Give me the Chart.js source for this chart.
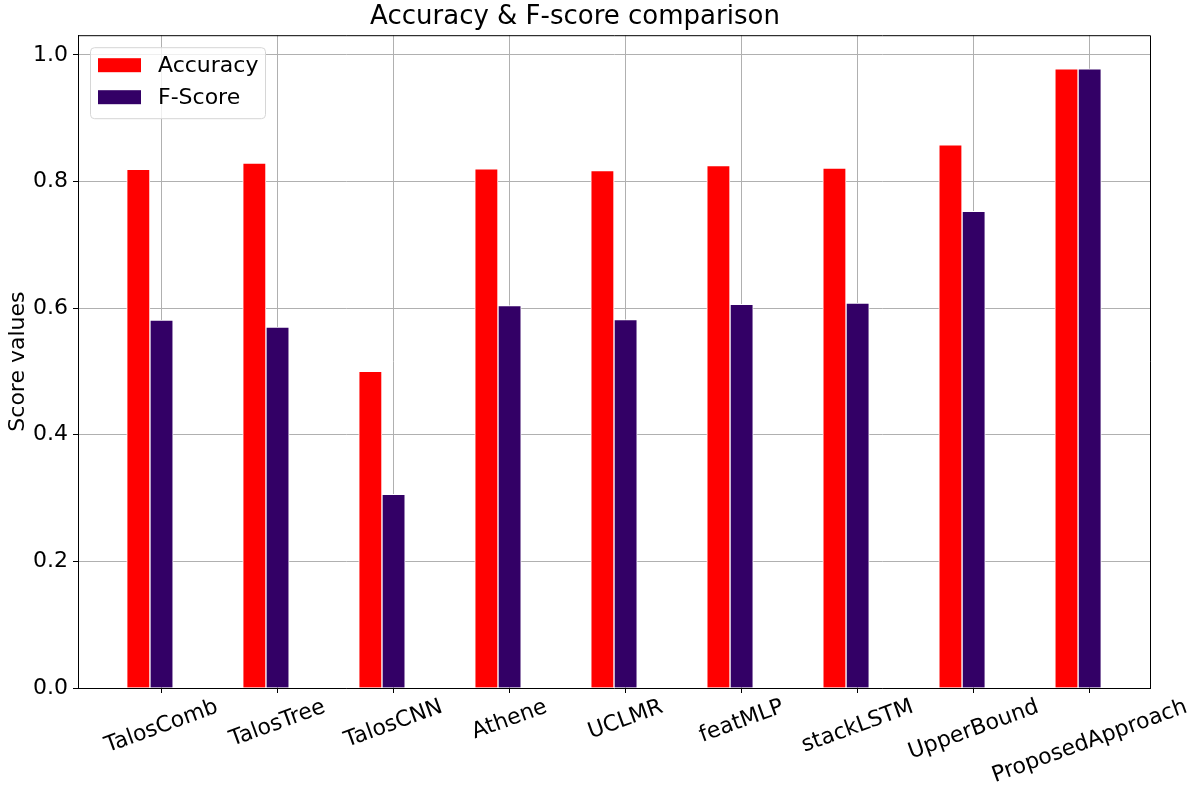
<!DOCTYPE html>
<html>
<head>
<meta charset="utf-8">
<script src="https://cdn.jsdelivr.net/npm/chart.js@4/dist/chart.umd.min.js"></script>
<style>
  body { margin: 0; background: #fff; }
</style>
</head>
<body>
<canvas id="barChart" width="1194" height="791"></canvas>
<script>
const categories = ['TalosComb', 'TalosTree', 'TalosCNN', 'Athene', 'UCLMR',
                    'featMLP', 'stackLSTM', 'UpperBound', 'ProposedApproach'];
const accuracy = [0.819, 0.829, 0.500, 0.820, 0.817, 0.825, 0.821, 0.858, 0.978];
const fscore   = [0.581, 0.570, 0.306, 0.604, 0.582, 0.606, 0.608, 0.753, 0.978];
const yTicks = [0.0, 0.2, 0.4, 0.6, 0.8, 1.0];

const FONT = 'DejaVu Sans';
const barW = 0.2;   // bar width in category units, red sits one bar left of the tick

// top/right frame, rotated x labels and the boxed legend
const extras = {
    id: 'extras',
    afterDraw(chart) {
        const ctx = chart.ctx;
        const a = chart.chartArea;
        const xs = chart.scales.x;
        ctx.save();
        ctx.strokeStyle = '#000';
        ctx.lineWidth = 1;
        ctx.beginPath();
        ctx.moveTo(a.left, a.top + 0.5);
        ctx.lineTo(a.right + 0.5, a.top + 0.5);
        ctx.lineTo(a.right + 0.5, a.bottom);
        ctx.stroke();

        // category labels, rotated 20deg and centred on the tick
        ctx.font = '22px "' + FONT + '"';
        ctx.fillStyle = '#000';
        ctx.textAlign = 'center';
        ctx.textBaseline = 'middle';
        const ang = 20 * Math.PI / 180;
        categories.forEach((lab, i) => {
            const w = ctx.measureText(lab).width;
            const x = xs.getPixelForValue(i);
            const y = a.bottom + 10 + (w * Math.sin(ang) + 18 * Math.cos(ang)) / 2;
            ctx.save();
            ctx.translate(x, y);
            ctx.rotate(-ang);
            ctx.fillText(lab, 0, 0);
            ctx.restore();
        });

        // legend
        const lx = a.left + 12, ly = a.top + 12, lw = 175, lh = 71;
        ctx.beginPath();
        ctx.roundRect(lx + 0.5, ly + 0.5, lw, lh, 4);
        ctx.fillStyle = 'rgba(255,255,255,0.8)';
        ctx.fill();
        ctx.strokeStyle = '#d6d6d6';
        ctx.stroke();
        ctx.textAlign = 'left';
        chart.data.datasets.forEach((ds, i) => {
            const ry = ly + 11 + i * 32;
            ctx.fillStyle = ds.backgroundColor;
            ctx.fillRect(lx + 8, ry, 43, 14);
            ctx.fillStyle = '#000';
            ctx.fillText(ds.label, lx + 68, ry + 8);
        });
        ctx.restore();
    }
};

new Chart(document.getElementById('barChart'), {
    type: 'bar',
    data: {
        datasets: [{
            label: 'Accuracy',
            data: categories.map((c, i) => ({x: i - barW, y: accuracy[i]})),
            backgroundColor: '#ff0000',
            borderColor: '#ffffff',
            borderWidth: 1,
            grouped: false,
            barPercentage: 1,
            categoryPercentage: 1
        }, {
            label: 'F-Score',
            data: categories.map((c, i) => ({x: i, y: fscore[i]})),
            backgroundColor: '#330066',
            borderColor: '#ffffff',
            borderWidth: 1,
            grouped: false,
            barPercentage: 1,
            categoryPercentage: 1
        }]
    },
    options: {
        responsive: false,
        animation: false,
        devicePixelRatio: 1,
        layout: { padding: { left: 0, right: 44, top: 0, bottom: 0 } },
        plugins: {
            legend: { display: false },
            tooltip: { enabled: false },
            title: {
                display: true,
                text: 'Accuracy & F-score comparison',
                color: '#000',
                font: { family: FONT, size: 26, weight: 'normal' },
                padding: { top: 2, bottom: 2 }
            }
        },
        scales: {
            x: {
                type: 'linear',
                min: -0.72,
                max: 8.52,
                offset: false,
                z: 1,
                afterBuildTicks: s => { s.ticks = categories.map((c, i) => ({value: i})); },
                ticks: { display: false },
                grid: { offset: false, color: '#b0b0b0', lineWidth: 1, tickColor: '#000', tickLength: 5 },
                border: { color: '#000', width: 1 },
                afterFit: s => { s.height = 103; }
            },
            y: {
                min: 0,
                max: 1.031,
                z: 1,
                afterBuildTicks: s => { s.ticks = yTicks.map(v => ({value: v})); },
                ticks: {
                    color: '#000',
                    padding: 5,
                    font: { family: FONT, size: 22 },
                    callback: v => v.toFixed(1)
                },
                grid: { color: '#b0b0b0', lineWidth: 1, tickColor: '#000', tickLength: 5 },
                border: { color: '#000', width: 1 },
                title: {
                    display: true,
                    text: 'Score values',
                    color: '#000',
                    font: { family: FONT, size: 22 },
                    padding: { top: 5, bottom: 0 }
                },
                afterFit: s => { s.width = 78; }
            }
        }
    },
    plugins: [extras]
});
</script>
</body>
</html>
